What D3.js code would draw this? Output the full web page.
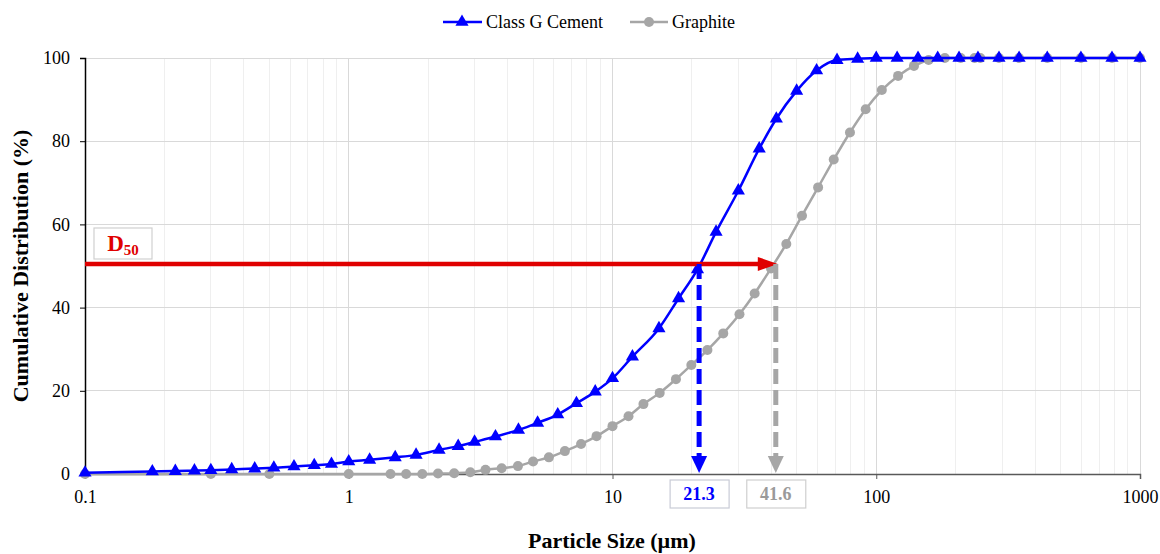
<!DOCTYPE html>
<meta charset="utf-8">
<html>
<head>
<style>
body { margin: 0; background: #fff; }
text { font-family: "Liberation Serif", "Times New Roman", serif; }
.grid line { shape-rendering: crispEdges; }
</style>
</head>
<body>
<svg width="1160" height="554"></svg>
<script src="https://cdn.jsdelivr.net/npm/d3@7/dist/d3.min.js"></script>
<script>

var cementSize = [0.1, 0.18, 0.22, 0.26, 0.30, 0.36, 0.44, 0.52, 0.62, 0.74, 0.86,
  1.0, 1.2, 1.5, 1.8, 2.2, 2.6, 3.0, 3.6, 4.4, 5.2, 6.2, 7.3, 8.6,
  10, 11.9, 15.0, 17.8, 21.0, 24.7, 30.0, 36.0, 41.8, 49.9, 59.4, 71.0, 85.0,
  100, 120, 144, 171, 206, 243, 292, 348, 445, 597, 783, 1000];
var cementPct = [0.3, 0.6, 0.7, 0.8, 0.9, 1.1, 1.3, 1.5, 1.8, 2.1, 2.4,
  3.0, 3.4, 4.0, 4.6, 5.8, 6.7, 7.7, 9.0, 10.6, 12.3, 14.3, 17.0, 19.8,
  23.0, 28.2, 35.0, 42.2, 49.2, 58.2, 68.1, 78.2, 85.4, 92.1, 97.0, 99.5, 99.8,
  100, 100, 100, 100, 100, 100, 100, 100, 100, 100, 100, 100];

var graphiteSize = [0.1, 0.3, 0.5, 1.0,
  1.44, 1.65, 1.90, 2.18, 2.51, 2.89, 3.30, 3.80, 4.38, 5.0, 5.74, 6.6, 7.6, 8.7,
  10, 11.5, 13.1, 15.1, 17.4, 19.9, 22.9, 26.3, 30.3, 34.6, 39.9, 45.6, 52.3, 60.2, 69.0, 79.5, 91.2,
  105, 121, 139, 158, 182, 209, 236, 248, 292, 348, 445, 597, 783, 1000];
var graphitePct = [0, 0, 0, 0,
  0, 0, 0, 0.1, 0.2, 0.4, 1.0, 1.4, 1.9, 3.0, 4.0, 5.5, 7.2, 9.1,
  11.5, 13.9, 16.8, 19.5, 22.8, 26.2, 29.8, 33.8, 38.4, 43.4, 49.4, 55.3, 62.1, 68.9, 75.6, 82.1, 87.7,
  92.3, 95.7, 98.1, 99.5, 100, 100, 100, 100, 100, 100, 100, 100, 100, 100];

var xTicks = [0.1, 1, 10, 100, 1000];
var yTicks = [0, 20, 40, 60, 80, 100];
var d50Level = 50.5;
var d50Cement = 21.3;
var d50Graphite = 41.6;

var blue = "#0000ff", gray = "#a6a6a6", red = "#e00000";

var svg = d3.select("svg");
var margin = {left: 85, right: 20, top: 58, bottom: 80};
var width = 1160, height = 554;

var x = d3.scaleLog().domain([0.1, 1000]).range([margin.left, width - margin.right]);
var y = d3.scaleLinear().domain([0, 100]).range([height - margin.bottom, margin.top]);

// minor + major vertical grid
var minor = [];
for (var e = -1; e < 3; e++) {
  for (var m = 2; m < 10; m++) minor.push(m * Math.pow(10, e));
}
var grid = svg.append("g").attr("class", "grid");
grid.selectAll(".vminor").data(minor).enter().append("line")
  .attr("x1", function(d){ return x(d); }).attr("x2", function(d){ return x(d); })
  .attr("y1", y(0)).attr("y2", y(100))
  .attr("stroke", "#efefef").attr("stroke-width", 1);
grid.selectAll(".vmajor").data(xTicks.slice(1)).enter().append("line")
  .attr("x1", function(d){ return x(d); }).attr("x2", function(d){ return x(d); })
  .attr("y1", y(0)).attr("y2", y(100))
  .attr("stroke", "#d9d9d9").attr("stroke-width", 1);
grid.selectAll(".hmajor").data(yTicks.slice(1)).enter().append("line")
  .attr("x1", x(0.1)).attr("x2", x(1000))
  .attr("y1", function(d){ return y(d); }).attr("y2", function(d){ return y(d); })
  .attr("stroke", "#d9d9d9").attr("stroke-width", 1);

// axes
var xAxis = svg.append("g")
  .attr("transform", "translate(0," + y(0) + ")")
  .call(d3.axisBottom(x).tickValues(xTicks).tickFormat(function(d){ return String(d); }).tickSize(5).tickPadding(11));
xAxis.select(".domain").attr("stroke", "#595959").attr("stroke-width", 1.5);
xAxis.selectAll(".tick line").attr("stroke", "#595959");
xAxis.selectAll("text").attr("font-size", 18).attr("fill", "#000")
  .attr("font-family", "Liberation Serif");

var yAxis = svg.append("g")
  .attr("transform", "translate(" + x(0.1) + ",0)")
  .call(d3.axisLeft(y).tickValues(yTicks).tickSize(5).tickPadding(10));
yAxis.select(".domain").attr("stroke", "#000").attr("stroke-width", 1.5);
yAxis.selectAll(".tick line").attr("stroke", "#000");
yAxis.selectAll("text").attr("font-size", 18).attr("fill", "#000")
  .attr("font-family", "Liberation Serif");

// series
var line = d3.line().curve(d3.curveMonotoneX)
  .x(function(d){ return x(d[0]); }).y(function(d){ return y(d[1]); });

var graphite = d3.zip(graphiteSize, graphitePct);
var cement = d3.zip(cementSize, cementPct);

svg.append("path").datum(graphite).attr("d", line)
  .attr("fill", "none").attr("stroke", gray).attr("stroke-width", 2.5);
svg.selectAll(".gdot").data(graphite).enter().append("circle")
  .attr("cx", function(d){ return x(d[0]); }).attr("cy", function(d){ return y(d[1]); })
  .attr("r", 5).attr("fill", gray);

svg.append("path").datum(cement).attr("d", line)
  .attr("fill", "none").attr("stroke", blue).attr("stroke-width", 2.5);
var tri = d3.symbol().type(d3.symbolTriangle).size(75);
svg.selectAll(".ctri").data(cement).enter().append("path")
  .attr("d", tri)
  .attr("transform", function(d){ return "translate(" + x(d[0]) + "," + y(d[1]) + ")"; })
  .attr("fill", blue);

// D50 annotation
var yd = y(d50Level);
var xr = x(d50Graphite);
svg.append("line").attr("x1", x(0.1)).attr("x2", xr - 16)
  .attr("y1", yd).attr("y2", yd).attr("stroke", red).attr("stroke-width", 4.5);
svg.append("path")
  .attr("d", "M" + (xr - 18) + "," + (yd - 7) + "L" + (xr + 2) + "," + yd + "L" + (xr - 18) + "," + (yd + 7) + "Z")
  .attr("fill", red);

function downArrow(xv, col) {
  var xp = x(xv);
  svg.append("line").attr("x1", xp).attr("x2", xp)
    .attr("y1", yd).attr("y2", y(0) - 16)
    .attr("stroke", col).attr("stroke-width", 5).attr("stroke-dasharray", "15,6");
  svg.append("path")
    .attr("d", "M" + (xp - 8) + "," + (y(0) - 18) + "L" + xp + "," + (y(0) - 1) + "L" + (xp + 8) + "," + (y(0) - 18) + "Z")
    .attr("fill", col);
}
downArrow(d50Cement, blue);
downArrow(d50Graphite, gray);

function valueBox(xv, col, border) {
  var xp = x(xv);
  svg.append("rect").attr("x", xp - 29).attr("y", 480).attr("width", 59).attr("height", 28)
    .attr("fill", "#fff").attr("stroke", border).attr("stroke-width", 1.2);
  svg.append("text").attr("x", xp).attr("y", 500).attr("text-anchor", "middle")
    .attr("font-size", 18).attr("font-weight", "bold").attr("fill", col)
    .text(String(xv));
}
valueBox(d50Cement, blue, "#c9cbd6");
valueBox(d50Graphite, "#9a9a9a", "#cfcfcf");

svg.append("rect").attr("x", 94).attr("y", 228).attr("width", 58).attr("height", 31)
  .attr("fill", "#fff").attr("stroke", "#d0d0d0").attr("stroke-width", 1.2);
var dl = svg.append("text").attr("x", 123).attr("y", 251).attr("text-anchor", "middle")
  .attr("fill", red).attr("font-weight", "bold").attr("font-size", 23);
dl.append("tspan").text("D");
dl.append("tspan").attr("font-size", 15).attr("dy", 4).text("50");

// axis titles
svg.append("text").attr("x", 612).attr("y", 548).attr("text-anchor", "middle")
  .attr("font-size", 22).attr("font-weight", "bold").text("Particle Size (\u00b5m)");
svg.append("text").attr("transform", "translate(28," + ((y(0) + y(100)) / 2) + ") rotate(-90)")
  .attr("text-anchor", "middle")
  .attr("font-size", 22).attr("font-weight", "bold").text("Cumulative Distribution (%)");

// legend
var leg = svg.append("g").attr("transform", "translate(0,22)");
leg.append("line").attr("x1", 443).attr("x2", 482).attr("stroke", blue).attr("stroke-width", 2.5);
leg.append("path").attr("d", tri).attr("transform", "translate(462,0)").attr("fill", blue);
leg.append("text").attr("x", 486).attr("y", 6).attr("font-size", 18).text("Class G Cement");
leg.append("line").attr("x1", 630).attr("x2", 668).attr("stroke", gray).attr("stroke-width", 2.5);
leg.append("circle").attr("cx", 649).attr("r", 5).attr("fill", gray);
leg.append("text").attr("x", 672).attr("y", 6).attr("font-size", 18).text("Graphite");

</script>
</body>
</html>
